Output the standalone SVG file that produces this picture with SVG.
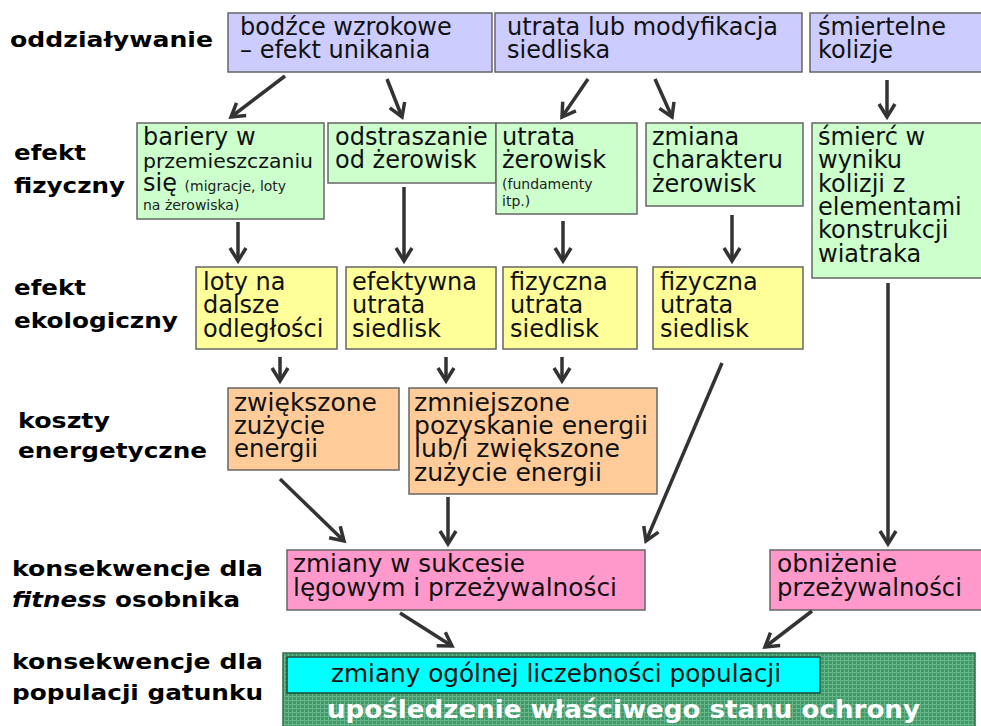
<svg xmlns="http://www.w3.org/2000/svg" width="981" height="726" viewBox="0 0 981 726">
<style>
.box{stroke:#666;stroke-width:1.5}
.b{fill:#ccccff}.g{fill:#ccffcc}.y{fill:#ffff99}.o{fill:#ffcc99}.p{fill:#ff99cc}
.t{font-family:"DejaVu Sans",Verdana,sans-serif;font-size:24px;fill:#111}
.s{font-family:"DejaVu Sans",Verdana,sans-serif;font-size:14px;fill:#222}
.m{font-family:"DejaVu Sans",Verdana,sans-serif;font-size:20px;fill:#111}
.l{font-family:"DejaVu Sans",Verdana,sans-serif;font-size:22px;font-weight:bold;fill:#000}
.w{font-family:"DejaVu Sans",Verdana,sans-serif;font-size:24px;font-weight:bold;fill:#fff}
.c{stroke:#333;stroke-width:3.5;fill:none}
</style>
<defs>
<marker id="ah" markerUnits="userSpaceOnUse" markerWidth="22" markerHeight="22" viewBox="0 0 22 22" refX="18" refY="11" orient="auto">
<path d="M5,3 L18,11 L5,19" fill="none" stroke="#333" stroke-width="3.5"/>
</marker>
<pattern id="grid" patternUnits="userSpaceOnUse" width="4" height="4">
<rect width="4" height="4" fill="#3f9a68"/>
<path d="M0,0.5 H4 M0.5,0 V4" stroke="#66b58a" stroke-width="1"/>
</pattern>
</defs>

<g id="labels">
<text class="l" x="10" y="47" textLength="203" lengthAdjust="spacingAndGlyphs">oddziaływanie</text>
<text class="l" x="14" y="160" textLength="72" lengthAdjust="spacingAndGlyphs">efekt</text>
<text class="l" x="14" y="193" textLength="111" lengthAdjust="spacingAndGlyphs">fizyczny</text>
<text class="l" x="14" y="295" textLength="72" lengthAdjust="spacingAndGlyphs">efekt</text>
<text class="l" x="14" y="328" textLength="164" lengthAdjust="spacingAndGlyphs">ekologiczny</text>
<text class="l" x="18" y="428" textLength="92" lengthAdjust="spacingAndGlyphs">koszty</text>
<text class="l" x="18" y="458" textLength="189" lengthAdjust="spacingAndGlyphs">energetyczne</text>
<text class="l" x="12" y="576" textLength="251" lengthAdjust="spacingAndGlyphs">konsekwencje dla</text>
<text class="l" x="12" y="607" textLength="228" lengthAdjust="spacingAndGlyphs"><tspan font-style="italic">fitness</tspan> osobnika</text>
<text class="l" x="12" y="669" textLength="251" lengthAdjust="spacingAndGlyphs">konsekwencje dla</text>
<text class="l" x="12" y="700" textLength="251" lengthAdjust="spacingAndGlyphs">populacji gatunku</text>
</g>

<g id="n-bodzce"><rect class="box b" x="228" y="13" width="264" height="59"/>
<text class="t" x="240" y="35">bodźce wzrokowe</text><text class="t" x="240" y="58">– efekt unikania</text></g>
<g id="n-utrata-siedliska"><rect class="box b" x="495" y="13" width="307" height="59"/>
<text class="t" x="507" y="35">utrata lub modyfikacja</text><text class="t" x="507" y="58">siedliska</text></g>
<g id="n-kolizje"><rect class="box b" x="810" y="13" width="175" height="59"/>
<text class="t" x="818" y="35">śmiertelne</text><text class="t" x="818" y="58">kolizje</text></g>

<g id="n-bariery"><rect class="box g" x="137" y="123" width="187" height="96"/>
<text class="t" x="143" y="145">bariery w</text>
<text class="m" x="143" y="168" textLength="170" lengthAdjust="spacingAndGlyphs">przemieszczaniu</text>
<text class="t" x="143" y="191">się <tspan class="s" font-size="14">(migracje, loty</tspan></text>
<text class="s" x="143" y="210">na żerowiska)</text></g>
<g id="n-odstraszanie"><rect class="box g" x="328" y="123" width="168" height="60"/>
<text class="t" x="335" y="145">odstraszanie</text><text class="t" x="335" y="168">od żerowisk</text></g>
<g id="n-utrata-zerowisk"><rect class="box g" x="496" y="123" width="141" height="91"/>
<text class="t" x="502" y="145">utrata</text><text class="t" x="502" y="168">żerowisk</text>
<text class="s" x="502" y="189">(fundamenty</text><text class="s" x="502" y="206">itp.)</text></g>
<g id="n-zmiana"><rect class="box g" x="646" y="123" width="157" height="83"/>
<text class="t" x="652" y="145">zmiana</text><text class="t" x="652" y="168">charakteru</text><text class="t" x="652" y="192">żerowisk</text></g>
<g id="n-smierc"><rect class="box g" x="812" y="123" width="173" height="155"/>
<text class="t" x="818" y="145">śmierć w</text><text class="t" x="818" y="168">wyniku</text><text class="t" x="818" y="192">kolizji z</text>
<text class="t" x="818" y="215">elementami</text><text class="t" x="818" y="238">konstrukcji</text><text class="t" x="818" y="262">wiatraka</text></g>

<g id="n-loty"><rect class="box y" x="196" y="267" width="141" height="82"/>
<text class="t" x="203" y="290">loty na</text><text class="t" x="203" y="313">dalsze</text><text class="t" x="203" y="337">odległości</text></g>
<g id="n-efektywna"><rect class="box y" x="346" y="267" width="150" height="82"/>
<text class="t" x="352" y="290">efektywna</text><text class="t" x="352" y="313">utrata</text><text class="t" x="352" y="337">siedlisk</text></g>
<g id="n-fizyczna1"><rect class="box y" x="503" y="267" width="134" height="82"/>
<text class="t" x="510" y="290">fizyczna</text><text class="t" x="510" y="313">utrata</text><text class="t" x="510" y="337">siedlisk</text></g>
<g id="n-fizyczna2"><rect class="box y" x="653" y="267" width="150" height="82"/>
<text class="t" x="660" y="290">fizyczna</text><text class="t" x="660" y="313">utrata</text><text class="t" x="660" y="337">siedlisk</text></g>

<g id="n-zwiekszone"><rect class="box o" x="228" y="388" width="171" height="82"/>
<text class="t" x="234" y="411" textLength="143" lengthAdjust="spacingAndGlyphs">zwiększone</text>
<text class="t" x="234" y="434" textLength="91" lengthAdjust="spacingAndGlyphs">zużycie</text>
<text class="t" x="234" y="457" textLength="84" lengthAdjust="spacingAndGlyphs">energii</text></g>
<g id="n-zmniejszone"><rect class="box o" x="409" y="388" width="248" height="106"/>
<text class="t" x="414" y="411" textLength="156" lengthAdjust="spacingAndGlyphs">zmniejszone</text>
<text class="t" x="414" y="434" textLength="234" lengthAdjust="spacingAndGlyphs">pozyskanie energii</text>
<text class="t" x="414" y="457" textLength="206" lengthAdjust="spacingAndGlyphs">lub/i zwiększone</text>
<text class="t" x="414" y="481" textLength="188" lengthAdjust="spacingAndGlyphs">zużycie energii</text></g>

<g id="n-zmiany-sukces"><rect class="box p" x="287" y="550" width="358" height="60"/>
<text class="t" x="293" y="572" textLength="232" lengthAdjust="spacingAndGlyphs">zmiany w sukcesie</text>
<text class="t" x="293" y="596" textLength="324" lengthAdjust="spacingAndGlyphs">lęgowym i przeżywalności</text></g>
<g id="n-obnizenie"><rect class="box p" x="770" y="550" width="215" height="60"/>
<text class="t" x="777" y="572" textLength="120" lengthAdjust="spacingAndGlyphs">obniżenie</text>
<text class="t" x="777" y="596" textLength="185" lengthAdjust="spacingAndGlyphs">przeżywalności</text></g>

<g id="n-populacja"><rect x="283" y="653" width="692" height="80" fill="url(#grid)" stroke="#2d6e4a" stroke-width="1.5"/>
<rect x="287" y="657" width="533" height="36" fill="#00ffff" stroke="#1a4a3a" stroke-width="1.5"/>
<text class="t" x="331" y="682" textLength="450" lengthAdjust="spacingAndGlyphs">zmiany ogólnej liczebności populacji</text>
<text class="w" x="327" y="718" textLength="593" lengthAdjust="spacingAndGlyphs">upośledzenie właściwego stanu ochrony</text></g>

<g id="connectors">
<line class="c" x1="285" y1="76" x2="231" y2="117" marker-end="url(#ah)"/>
<line class="c" x1="387" y1="79" x2="402" y2="117" marker-end="url(#ah)"/>
<line class="c" x1="588" y1="79" x2="562" y2="117" marker-end="url(#ah)"/>
<line class="c" x1="655" y1="79" x2="672" y2="117" marker-end="url(#ah)"/>
<line class="c" x1="887" y1="80" x2="887" y2="117" marker-end="url(#ah)"/>
<line class="c" x1="238" y1="222" x2="238" y2="261" marker-end="url(#ah)"/>
<line class="c" x1="404" y1="187" x2="404" y2="261" marker-end="url(#ah)"/>
<line class="c" x1="563" y1="221" x2="563" y2="261" marker-end="url(#ah)"/>
<line class="c" x1="732" y1="215" x2="732" y2="261" marker-end="url(#ah)"/>
<line class="c" x1="280" y1="357" x2="280" y2="381" marker-end="url(#ah)"/>
<line class="c" x1="446" y1="357" x2="446" y2="381" marker-end="url(#ah)"/>
<line class="c" x1="562" y1="357" x2="562" y2="381" marker-end="url(#ah)"/>
<line class="c" x1="280" y1="479" x2="344" y2="541" marker-end="url(#ah)"/>
<line class="c" x1="448" y1="497" x2="448" y2="544" marker-end="url(#ah)"/>
<line class="c" x1="722" y1="363" x2="646" y2="541" marker-end="url(#ah)"/>
<line class="c" x1="888" y1="283" x2="888" y2="544" marker-end="url(#ah)"/>
<line class="c" x1="400" y1="613" x2="452" y2="646" marker-end="url(#ah)"/>
<line class="c" x1="812" y1="611" x2="765" y2="647" marker-end="url(#ah)"/>
</g>
</svg>
